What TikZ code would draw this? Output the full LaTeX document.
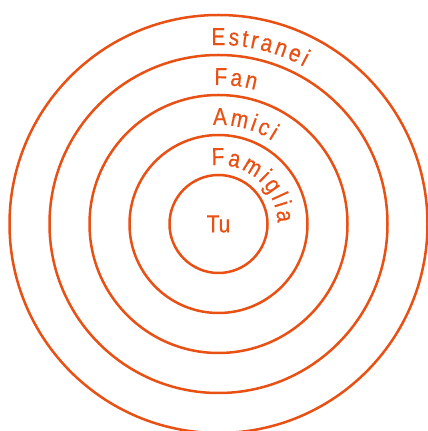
\documentclass[tikz,border=0pt]{standalone}
\usepackage{fontspec}
\setmainfont{Liberation Sans}
\newfontfamily\arcfont[FakeStretch=0.85,FakeBold=0.4]{Liberation Sans}
\usetikzlibrary{decorations.text}
\definecolor{ora}{RGB}{232,80,20}
\tikzset{
  ring/.style={draw=ora, line width=2.5pt},
  arclabel/.style={decorate, decoration={text effects along path, text={#1}, text align=left,
    text effects/.cd, text along path,
    characters={text=ora, font=\arcfont\fontsize{24.5}{28}\selectfont, inner xsep=0pt},
    character widths={font=\arcfont\fontsize{24.5}{28}\selectfont, inner xsep=1.4pt}}}
}
\begin{document}
\begin{tikzpicture}[x=1pt,y=1pt]
\useasboundingbox (0,0) rectangle (428,431);
\coordinate (c) at (218.5,207);
\draw[ring] (c) circle[radius=49];
\draw[ring] (c) circle[radius=89];
\draw[ring] (c) circle[radius=129];
\draw[ring] (c) circle[radius=169];
\draw[ring] (c) circle[radius=209];
\node[text=ora, font=\arcfont\fontsize{24.5}{28}\selectfont] (tu) at (c) {Tu};
\path[arclabel=Famiglia] (c) ++(98:59) arc[start angle=98, end angle=-20, radius=59];
\path[arclabel=Amici] (c) ++(94:99) arc[start angle=94, end angle=0, radius=99];
\path[arclabel=Fan] (c) ++(92.3:139) arc[start angle=92.3, end angle=0, radius=139];
\path[arclabel=Estranei] (c) ++(92.7:179) arc[start angle=92.7, end angle=0, radius=179];
\end{tikzpicture}
\end{document}
